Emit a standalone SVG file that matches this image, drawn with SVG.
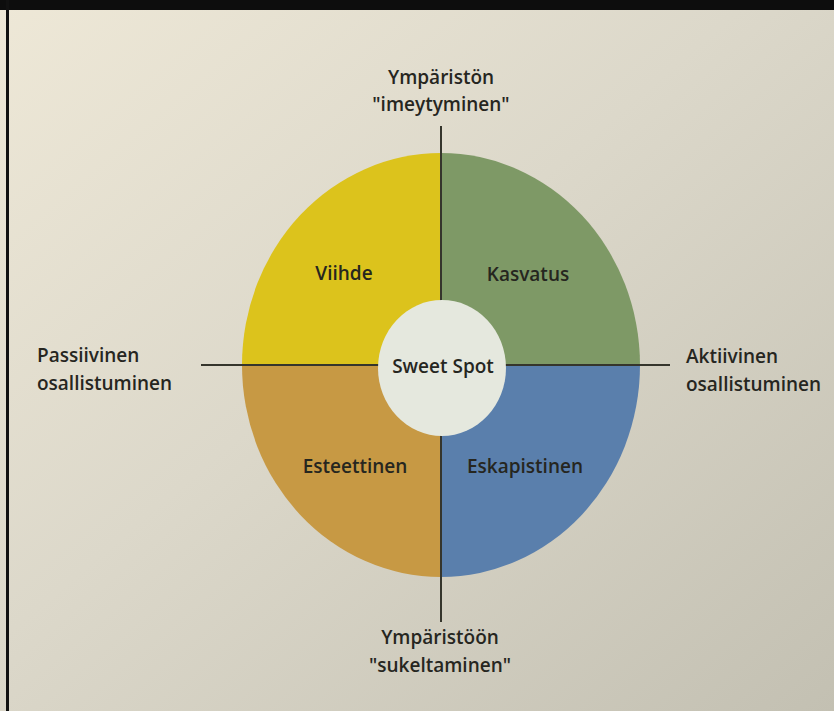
<svg xmlns="http://www.w3.org/2000/svg" width="834" height="711" viewBox="0 0 834 711">
  <defs>
    <linearGradient id="bg" x1="0" y1="0" x2="1" y2="1">
      <stop offset="0" stop-color="#eee8d7"/>
      <stop offset="0.45" stop-color="#dcd8ca"/>
      <stop offset="1" stop-color="#c3c0b2"/>
    </linearGradient>
    <style>
      .lbl { font-family: "Open Sans", "Noto Sans", "Liberation Sans", sans-serif; font-size: 19px; font-weight: 600; fill: #26261f; }
      .mid { text-anchor: middle; }
      .axis { stroke: #35352c; stroke-width: 2; fill: none; }
    </style>
  </defs>

  <rect x="0" y="0" width="834" height="711" fill="url(#bg)"/>
  <rect x="0" y="0" width="834" height="10" fill="#0d0d0d"/>
  <rect x="6" y="0" width="3" height="711" fill="#111111"/>

  <g id="connectors">
    <line class="axis" x1="441" y1="126" x2="441" y2="622"/>
    <line class="axis" x1="201" y1="365" x2="670" y2="365"/>
  </g>

  <g id="viihde">
    <path d="M441 365 L242 365 A199 212 0 0 1 441 153 Z" fill="#dcc31c"/>
    <text class="lbl mid" x="344" y="280">Viihde</text>
  </g>
  <g id="kasvatus">
    <path d="M441 365 L441 153 A199 212 0 0 1 640 365 Z" fill="#7e9966"/>
    <text class="lbl mid" x="528" y="281">Kasvatus</text>
  </g>
  <g id="esteettinen">
    <path d="M441 365 L441 577 A199 212 0 0 1 242 365 Z" fill="#c79944"/>
    <text class="lbl mid" x="355" y="473">Esteettinen</text>
  </g>
  <g id="eskapistinen">
    <path d="M441 365 L640 365 A199 212 0 0 1 441 577 Z" fill="#5a7fac"/>
    <text class="lbl mid" x="525" y="473">Eskapistinen</text>
  </g>

  <g id="axes-lines-over">
    <line class="axis" x1="441" y1="153" x2="441" y2="577"/>
    <line class="axis" x1="242" y1="365" x2="640" y2="365"/>
  </g>

  <g id="sweet-spot">
    <ellipse cx="442" cy="368" rx="64" ry="68" fill="#e5e8de"/>
    <text class="lbl mid" x="443" y="373">Sweet Spot</text>
  </g>

  <g id="label-top">
    <text class="lbl mid" x="441" y="84">Ympäristön</text>
    <text class="lbl mid" x="441" y="111">"imeytyminen"</text>
  </g>
  <g id="label-left">
    <text class="lbl" x="37" y="362">Passiivinen</text>
    <text class="lbl" x="37" y="390">osallistuminen</text>
  </g>
  <g id="label-right">
    <text class="lbl" x="686" y="363">Aktiivinen</text>
    <text class="lbl" x="686" y="391">osallistuminen</text>
  </g>
  <g id="label-bottom">
    <text class="lbl mid" x="440" y="644">Ympäristöön</text>
    <text class="lbl mid" x="440" y="672">"sukeltaminen"</text>
  </g>
</svg>
